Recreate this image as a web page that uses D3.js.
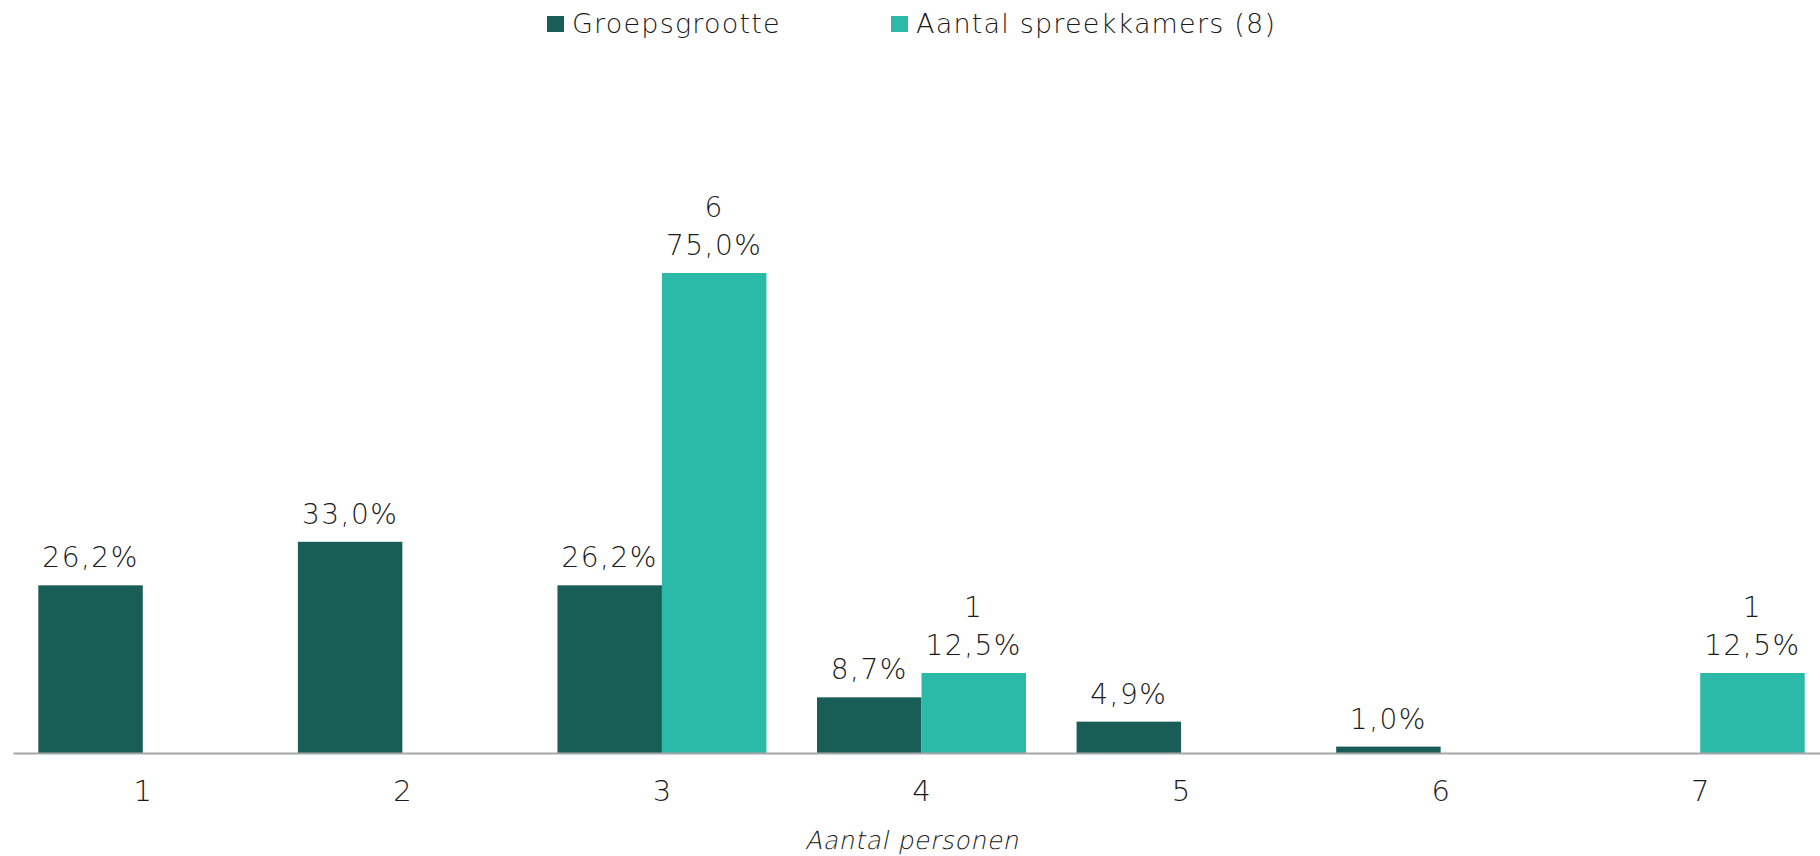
<!DOCTYPE html>
<html>
<head>
<meta charset="utf-8">
<script src="https://cdn.jsdelivr.net/npm/d3@7"></script>
<style>
  body { margin: 0; background: #fff; }
  svg text { font-family: "DejaVu Sans", sans-serif; font-weight: 200; fill: #1a1a1a; }
</style>
</head>
<body>
<div id="wrapper"></div>
<script>
// data
const categories = ["1", "2", "3", "4", "5", "6", "7"];
const groepsgrootte = [26.2, 33.0, 26.2, 8.7, 4.9, 1.0, null];
const spreekkamers = [null, null, 75.0, 12.5, null, null, 12.5];
const spreekkamersCount = [null, null, 6, 1, null, null, 1];
const seriesNames = ["Groepsgrootte", "Aantal spreekkamers (8)"];
const colors = ["#185e56", "#2bb9a8"];

const width = 1820;
const height = 856;
const dimensions = {
  margins: { top: 273, right: 0, bottom: 103, left: 12 },
};
dimensions.boundedWidth = width - dimensions.margins.left - dimensions.margins.right;
dimensions.boundedHeight = height - dimensions.margins.top - dimensions.margins.bottom;

const svg = d3.select("#wrapper")
  .append("svg")
  .attr("width", width)
  .attr("height", height);

const bounds = svg.append("g")
  .attr("transform", `translate(${dimensions.margins.left},${dimensions.margins.top})`);

// scales (the last group runs a little past the right edge, as in the original)
const xScale = d3.scaleBand()
  .domain(categories)
  .range([1, dimensions.boundedWidth + 10])
  .paddingInner(0.195)
  .paddingOuter(0.0975);

const innerScale = d3.scaleBand()
  .domain([0, 1])
  .range([0, xScale.bandwidth()]);

const yScale = d3.scaleLinear()
  .domain([0, 75])
  .range([dimensions.boundedHeight, 0]);

const fmt = v => d3.format(".1f")(v).replace(".", ",") + "%";

// bars
const seriesData = [groepsgrootte, spreekkamers];
seriesData.forEach((values, si) => {
  const rows = categories.map((c, i) => ({ c, v: values[i], n: si === 1 ? spreekkamersCount[i] : null }))
    .filter(d => d.v != null);

  bounds.selectAll(`.bar-${si}`)
    .data(rows)
    .enter()
    .append("rect")
    .attr("class", `bar-${si}`)
    .attr("x", d => xScale(d.c) + innerScale(si))
    .attr("y", d => yScale(d.v))
    .attr("width", innerScale.bandwidth())
    .attr("height", d => yScale(0) - yScale(d.v))
    .attr("fill", colors[si]);

  const cx = d => xScale(d.c) + innerScale(si) + innerScale.bandwidth() / 2;

  const labels = bounds.selectAll(`.lbl-${si}`)
    .data(rows)
    .enter()
    .append("text")
    .attr("class", `lbl-${si}`)
    .attr("x", cx)
    .attr("y", d => yScale(d.v) - 18)
    .attr("text-anchor", "middle")
    .style("font-size", "28px")
    .style("letter-spacing", "1.5px");

  labels.filter(d => d.n != null)
    .append("tspan")
    .attr("x", cx)
    .attr("dy", -38)
    .text(d => d.n);

  labels.append("tspan")
    .attr("x", cx)
    .attr("dy", d => d.n != null ? 38 : 0)
    .text(d => fmt(d.v));
});

// x axis
const xAxis = bounds.append("g")
  .attr("transform", `translate(0,${dimensions.boundedHeight})`)
  .call(d3.axisBottom(xScale).tickSize(0).tickPadding(27));

xAxis.select(".domain")
  .attr("stroke", "#a6a6a6")
  .attr("stroke-width", 2);

xAxis.selectAll(".tick text")
  .style("font-size", "29px")
  .attr("fill", "#333")
  .style("font-family", "'DejaVu Sans', sans-serif");

// axis title: the light face slanted by hand
bounds.append("g")
  .attr("transform", `translate(${912 - dimensions.margins.left},${dimensions.boundedHeight + 96}) skewX(-12)`)
  .append("text")
  .attr("text-anchor", "middle")
  .style("font-size", "25px")
  .style("letter-spacing", "0.6px")
  .text("Aantal personen");

// legend
const legendX = [547, 891];
const legend = svg.selectAll(".legend")
  .data(seriesNames)
  .enter()
  .append("g")
  .attr("class", "legend")
  .attr("transform", (d, i) => `translate(${legendX[i]},0)`);

legend.append("rect")
  .attr("x", 0)
  .attr("y", 16)
  .attr("width", 17)
  .attr("height", 16)
  .attr("fill", (d, i) => colors[i]);

legend.append("text")
  .attr("x", 25)
  .attr("y", 33)
  .style("font-size", "27px")
  .style("letter-spacing", "1.2px")
  .text(d => d);
</script>
</body>
</html>
